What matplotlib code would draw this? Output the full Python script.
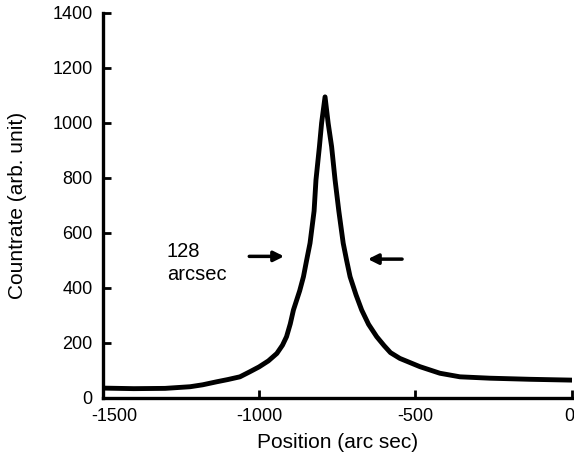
import matplotlib
matplotlib.use("Agg")
import matplotlib.pyplot as plt
from matplotlib.transforms import ScaledTranslation

# profile
position = [-1500, -1400, -1300, -1220, -1180, -1135, -1100, -1061, -1030, -1000,
            -970, -943, -925, -912, -900, -890, -870, -858, -848, -837,
            -824, -818, -807, -800, -789, -779, -768, -757, -745, -731,
            -720, -709, -690, -672, -650, -624, -600, -580, -550, -486,
            -422, -358, -262, -134, 0]
countrate = [36, 34, 35, 41, 48, 59, 67, 77, 95, 113,
             135, 162, 192, 223, 270, 320, 390, 441, 500, 563,
             680, 793, 914, 1000, 1095, 999, 914, 793, 680, 563,
             500, 441, 375, 320, 268, 223, 190, 165, 144, 114,
             90, 77, 72, 68, 65]

xticks = [-1500, -1000, -500, 0]
yticks = [0, 200, 400, 600, 800, 1000, 1200, 1400]

plt.rcParams['font.family'] = ['Liberation Sans', 'DejaVu Sans']
plt.rcParams['axes.unicode_minus'] = False

fig = plt.figure(figsize=(5.74, 4.59), dpi=100)
ax = fig.add_axes([0.1786, 0.1329, 0.8179, 0.8388])

ax.plot(position, countrate, color='black', lw=3.5, solid_joinstyle='round',
        solid_capstyle='round')

ax.set_xlim(-1500, 0)
ax.set_ylim(0, 1400)
ax.set_xticks(xticks)
ax.set_yticks(yticks)
ax.tick_params(direction='in', length=6, width=2, labelsize=13, pad=7)

for s in ['top', 'right']:
    ax.spines[s].set_visible(False)
for s in ['left', 'bottom']:
    ax.spines[s].set_linewidth(2.4)

# nudge end labels like the original: "-1500" right, "0" left
labels = ax.get_xticklabels()
labels[0].set_transform(labels[0].get_transform() + ScaledTranslation(12 / 100, 0, fig.dpi_scale_trans))
labels[-1].set_transform(labels[-1].get_transform() + ScaledTranslation(-3 / 100, 0, fig.dpi_scale_trans))

ax.set_xlabel('Position (arc sec)', fontsize=15)
ax.set_ylabel('Countrate (arb. unit)', fontsize=15)
ax.xaxis.set_label_coords(0.5, -0.092)
ax.yaxis.set_label_coords(-0.16, 0.5)

# FWHM arrows
arr = dict(arrowstyle='-|>', lw=2.5, color='black', mutation_scale=15)
ax.annotate('', xy=(-911, 515), xytext=(-1040, 515), arrowprops=arr)
ax.annotate('', xy=(-661, 505), xytext=(-534, 505), arrowprops=arr)
ax.text(-1295, 490, '128\narcsec', fontsize=14.5, ha='left', va='center',
        linespacing=1.3)

fig.savefig('out.png', dpi=100)
